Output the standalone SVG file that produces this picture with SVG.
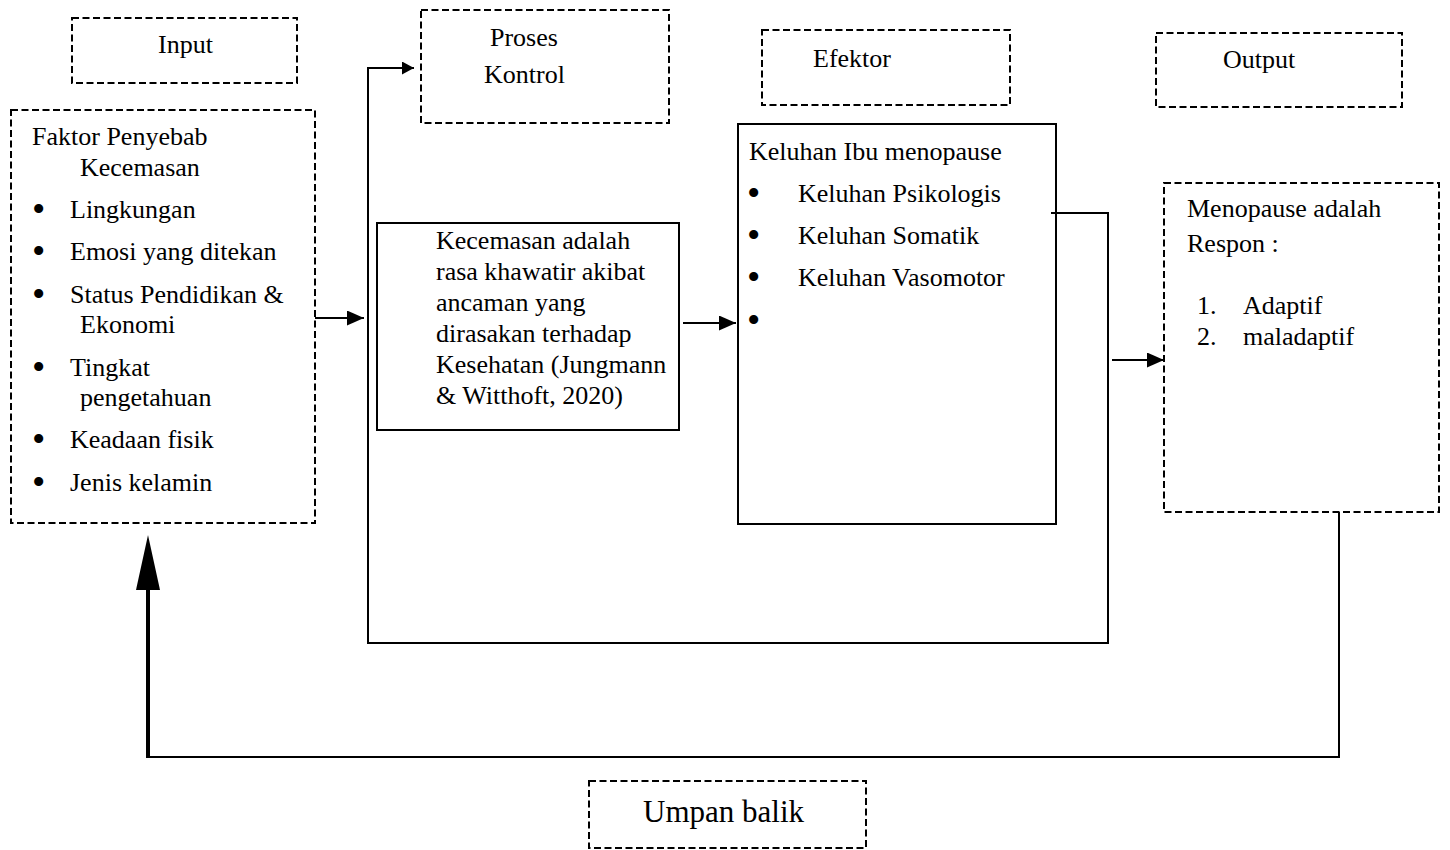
<svg xmlns="http://www.w3.org/2000/svg" width="1450" height="850" viewBox="0 0 1450 850">
<style>
text{font-family:"Liberation Serif","Times New Roman",serif;font-size:26px;fill:#000}
.b{font-size:38px}
.dash{fill:none;stroke:#000;stroke-width:2;stroke-dasharray:7 3.5}
.solid{fill:none;stroke:#000;stroke-width:2}
.conn{fill:none;stroke:#000;stroke-width:2}
</style>
<defs>
<marker id="ah" markerUnits="userSpaceOnUse" markerWidth="17" markerHeight="15" refX="17" refY="7.5" orient="auto">
<path d="M0,0 L17,7.5 L0,15 z" fill="#000"/>
</marker>
<marker id="ahs" markerUnits="userSpaceOnUse" markerWidth="12" markerHeight="13" refX="12" refY="6.5" orient="auto">
<path d="M0,0 L12,6.5 L0,13 z" fill="#000"/>
</marker>
</defs>
<rect width="1450" height="850" fill="#fff"/>

<g id="input-label">
<rect class="dash" x="72" y="18" width="225" height="65"/>
<text x="158" y="53">Input</text>
</g>

<g id="proses-label">
<rect class="dash" x="421" y="10" width="248" height="113"/>
<text x="490" y="46">Proses</text>
<text x="484" y="83">Kontrol</text>
</g>

<g id="efektor-label">
<rect class="dash" x="762" y="30" width="248" height="75"/>
<text x="813" y="67">Efektor</text>
</g>

<g id="output-label">
<rect class="dash" x="1156" y="33" width="246" height="74"/>
<text x="1223" y="68">Output</text>
</g>

<g id="input-box">
<rect class="dash" x="11" y="110" width="304" height="413"/>
<text x="32" y="145">Faktor Penyebab</text>
<text x="80" y="176">Kecemasan</text>
<text class="b" x="32" y="222">•</text><text x="70" y="218">Lingkungan</text>
<text class="b" x="32" y="264">•</text><text x="70" y="260">Emosi yang ditekan</text>
<text class="b" x="32" y="307">•</text><text x="70" y="303">Status Pendidikan &amp;</text>
<text x="80" y="333">Ekonomi</text>
<text class="b" x="32" y="380">•</text><text x="70" y="376">Tingkat</text>
<text x="80" y="406">pengetahuan</text>
<text class="b" x="32" y="452">•</text><text x="70" y="448">Keadaan fisik</text>
<text class="b" x="32" y="495">•</text><text x="70" y="491">Jenis kelamin</text>
</g>

<g id="proses-box">
<rect class="solid" x="377" y="223" width="302" height="207"/>
<text x="436" y="249">Kecemasan adalah</text>
<text x="436" y="280">rasa khawatir akibat</text>
<text x="436" y="311">ancaman yang</text>
<text x="436" y="342">dirasakan terhadap</text>
<text x="436" y="373">Kesehatan (Jungmann</text>
<text x="436" y="404">&amp; Witthoft, 2020)</text>
</g>

<g id="efektor-box">
<rect class="solid" x="738" y="124" width="318" height="400"/>
<text x="749" y="160">Keluhan Ibu menopause</text>
<text class="b" x="747" y="206">•</text><text x="798" y="202">Keluhan Psikologis</text>
<text class="b" x="747" y="248">•</text><text x="798" y="244">Keluhan Somatik</text>
<text class="b" x="747" y="290">•</text><text x="798" y="286">Keluhan Vasomotor</text>
<text class="b" x="747" y="333">•</text>
</g>

<g id="output-box">
<rect class="dash" x="1164" y="183" width="275" height="329"/>
<text x="1187" y="217">Menopause adalah</text>
<text x="1187" y="252">Respon :</text>
<text x="1197" y="314">1.</text><text x="1243" y="314">Adaptif</text>
<text x="1197" y="345">2.</text><text x="1243" y="345">maladaptif</text>
</g>

<g id="umpan-balik">
<rect class="dash" x="589" y="781" width="277" height="67"/>
<text x="643" y="822" style="font-size:31px">Umpan balik</text>
</g>

<g id="connectors">
<line class="conn" x1="315" y1="318" x2="364" y2="318" marker-end="url(#ah)"/>
<line class="conn" x1="683" y1="323" x2="736" y2="323" marker-end="url(#ah)"/>
<path class="conn" d="M1051,213 H1108 V643 H368 V68 H414" marker-end="url(#ahs)"/>
<line class="conn" x1="1112" y1="360" x2="1164" y2="360" marker-end="url(#ah)"/>
<path class="conn" d="M1339,512 V757 H148"/>
<line x1="148" y1="758" x2="148" y2="585" stroke="#000" stroke-width="4"/>
<polygon points="148,535 136,590 160,590" fill="#000"/>
</g>
</svg>
